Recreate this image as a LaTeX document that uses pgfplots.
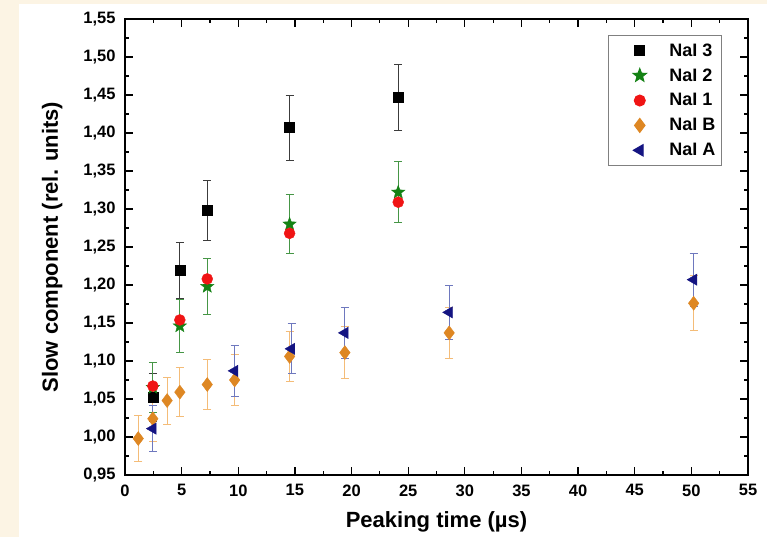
\documentclass[border=0pt]{standalone}
\usepackage{fontspec}
\setmainfont{Liberation Sans}
\usepackage{pgfplots}
\usepackage{pgfplotstable}
\pgfplotsset{compat=1.18}

\definecolor{cream}{RGB}{252,244,228}
\definecolor{naithree}{RGB}{0,0,0}
\definecolor{naithreeerr}{RGB}{60,60,60}
\definecolor{naitwo}{RGB}{20,130,20}
\definecolor{naitwoerr}{RGB}{70,150,70}
\definecolor{naione}{RGB}{240,20,20}
\definecolor{naib}{RGB}{222,135,35}
\definecolor{naiberr}{RGB}{244,188,120}
\definecolor{naia}{RGB}{20,20,130}
\definecolor{naiaerr}{RGB}{110,120,190}

% filled five-pointed star
\pgfdeclareplotmark{fstar}{%
  \pgfpathmoveto{\pgfpointpolar{90}{\pgfplotmarksize}}%
  \pgfpathlineto{\pgfpointpolar{126}{0.42\pgfplotmarksize}}%
  \pgfpathlineto{\pgfpointpolar{162}{\pgfplotmarksize}}%
  \pgfpathlineto{\pgfpointpolar{198}{0.42\pgfplotmarksize}}%
  \pgfpathlineto{\pgfpointpolar{234}{\pgfplotmarksize}}%
  \pgfpathlineto{\pgfpointpolar{270}{0.42\pgfplotmarksize}}%
  \pgfpathlineto{\pgfpointpolar{306}{\pgfplotmarksize}}%
  \pgfpathlineto{\pgfpointpolar{342}{0.42\pgfplotmarksize}}%
  \pgfpathlineto{\pgfpointpolar{18}{\pgfplotmarksize}}%
  \pgfpathlineto{\pgfpointpolar{54}{0.42\pgfplotmarksize}}%
  \pgfpathclose
  \pgfusepathqfillstroke}

% legend mark with extra room on its left
\pgfplotsset{widemark/.style={legend image code/.code={%
  \path[draw=none] (-0.67cm,0cm) -- (0.6cm,0cm);
  \draw[mark repeat=2,mark phase=2,##1,only marks] plot coordinates {(0cm,0cm) (0.3cm,0cm) (0.6cm,0cm)};}}}

% x = peaking time (us), y = slow component, e = error
\pgfplotstableread{
x     y      e
2.46  1.052  0.032
4.84  1.219  0.037
7.26  1.298  0.040
14.53 1.407  0.043
24.12 1.447  0.043
}\naithree
\pgfplotstableread{
x     y      e
2.46  1.065  0.033
4.84  1.146  0.035
7.26  1.198  0.037
14.53 1.280  0.039
24.12 1.322  0.040
}\naitwo
\pgfplotstableread{
x     y
2.46  1.067
4.84  1.154
7.26  1.208
14.53 1.268
24.12 1.309
}\naione
\pgfplotstableread{
x     y      e
1.17  0.998  0.030
2.46  1.024  0.030
3.72  1.048  0.031
4.84  1.059  0.032
7.26  1.069  0.033
9.68  1.075  0.033
14.53 1.106  0.033
19.41 1.111  0.034
28.62 1.137  0.034
50.20 1.176  0.036
}\naib
\pgfplotstableread{
x     y      e
2.46  1.011  0.030
9.68  1.087  0.033
14.70 1.116  0.033
19.41 1.137  0.034
28.62 1.164  0.035
50.20 1.207  0.035
}\naia

\begin{document}
\begin{tikzpicture}[x=1pt,y=1pt]
\useasboundingbox (-125,-62) rectangle (642,475);
\fill[cream] (-125,-62) rectangle (642,475);
\fill[white] (-106,-62) rectangle (642,471);
\begin{axis}[
    at={(0,0)}, anchor=south west,
    scale only axis, width=623pt, height=456pt,
    xmin=0, xmax=55, ymin=0.95, ymax=1.55,
    xtick distance=5, ytick distance=0.05,
    minor x tick num=1, minor y tick num=1,
    tick align=inside, axis line style={line width=1.4pt},
    every tick/.style={black, line width=1.2pt},
    major tick length=8pt, minor tick length=4pt,
    /pgf/number format/assume math mode=true,
    tick label style={font=\fontsize{16.5}{19}\selectfont\bfseries},
    yticklabel style={/pgf/number format/.cd, fixed, fixed zerofill, precision=2, use comma, /tikz/.cd, xshift=-6pt},
    xticklabel style={yshift=-6pt},
    xlabel={Peaking time (µs)},
    ylabel={Slow component (rel. units)},
    label style={font=\fontsize{22}{26}\selectfont\bfseries},
    xlabel style={at={(axis description cs:0.5,-0.103)}, anchor=center},
    ylabel style={at={(axis description cs:-0.117,0.5)}, anchor=center},
    legend style={at={(axis description cs:0.958,0.965)}, anchor=north east,
        draw=gray, line width=1pt, font=\fontsize{18}{21}\selectfont\bfseries,
        row sep=7pt, inner xsep=4pt, inner ysep=6pt,
        /tikz/every odd column/.append style={column sep=19pt}},
    legend cell align=left,
]
\addplot[only marks, widemark, mark=square*, mark size=5pt, color=naithree,
    error bars/.cd, y dir=both, y explicit,
    error bar style={color=naithreeerr, line width=0.9pt},
    error mark options={rotate=90, mark size=4pt, color=naithreeerr, line width=0.9pt}]
    table[x=x, y=y, y error=e] {\naithree};
\addlegendentry{NaI 3}
\addplot[only marks, widemark, mark=fstar, mark size=7pt, color=naitwo,
    error bars/.cd, y dir=both, y explicit,
    error bar style={color=naitwoerr, line width=0.9pt},
    error mark options={rotate=90, mark size=4pt, color=naitwoerr, line width=0.9pt}]
    table[x=x, y=y, y error=e] {\naitwo};
\addlegendentry{NaI 2}
\addplot[only marks, widemark, mark=*, mark size=5.5pt, color=naione]
    table[x=x, y=y] {\naione};
\addlegendentry{NaI 1}
\addplot[only marks, widemark, mark=diamond*, mark size=7pt, color=naib,
    error bars/.cd, y dir=both, y explicit,
    error bar style={color=naiberr, line width=0.9pt},
    error mark options={rotate=90, mark size=4pt, color=naiberr, line width=0.9pt}]
    table[x=x, y=y, y error=e] {\naib};
\addlegendentry{NaI B}
\addplot[only marks, widemark, mark=triangle*, mark size=6.5pt, color=naia, mark options={rotate=90},
    error bars/.cd, y dir=both, y explicit,
    error bar style={color=naiaerr, line width=0.9pt},
    error mark options={rotate=90, mark size=4pt, color=naiaerr, line width=0.9pt}]
    table[x=x, y=y, y error=e] {\naia};
\addlegendentry{NaI A}
\end{axis}
\end{tikzpicture}
\end{document}
